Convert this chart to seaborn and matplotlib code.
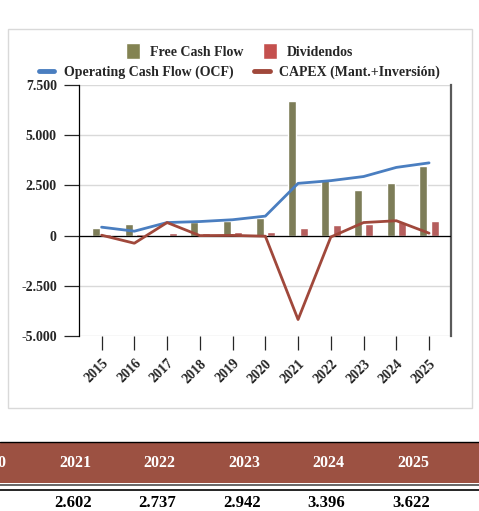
import numpy as np
import pandas as pd
import seaborn as sns
import matplotlib.pyplot as plt
from matplotlib.patches import Patch, Rectangle
from matplotlib.lines import Line2D
from matplotlib.transforms import ScaledTranslation

# Datos
years = ['2015', '2016', '2017', '2018', '2019', '2020', '2021', '2022', '2023', '2024', '2025']
fcf = [380, 570, 0, 680, 740, 900, 6700, 2800, 2250, 2610, 3480]
dividendos = [90, 80, 140, 140, 190, 200, 400, 510, 590, 660, 710]
ocf = [420, 220, 650, 700, 790, 970, 2602, 2737, 2942, 3396, 3622]
capex = [20, -380, 650, 0, 10, -30, -4180, -70, 650, 740, 120]

ytick_vals = [-5000, -2500, 0, 2500, 5000, 7500]
ytick_labels = ['-5.000', '-2.500', '0', '2.500', '5.000', '7.500']

# tabla de abajo (OCF 2020-2025)
table_years = years[5:]
table_vals = ocf[5:]

series_bar = ['Free Cash Flow', 'Dividendos']
colors = {'Free Cash Flow': '#838352', 'Dividendos': '#C4504E'}
c_ocf = '#4A7EC0'
c_capex = '#A0483B'
c_header = '#9C5142'

df = pd.DataFrame({
    'Año': years * 2,
    'Valor': fcf + dividendos,
    'Serie': [series_bar[0]] * len(years) + [series_bar[1]] * len(years),
})

sns.set_style('white')
plt.rcParams['font.family'] = ['Liberation Serif', 'DejaVu Serif']
plt.rcParams['font.weight'] = 'bold'

fig = plt.figure(figsize=(4.79, 5.11), dpi=100)
W, H = 479, 511

# marco del gráfico
fig.add_artist(Rectangle((8 / W, 1 - 408 / H), 464 / W, 379 / H, transform=fig.transFigure,
                         fill=False, ec='#D9D9D9', lw=1))

ax = fig.add_axes([79 / W, 1 - 336 / H, 372 / W, 251 / H])

sns.barplot(data=df, x='Año', y='Valor', hue='Serie', order=years, hue_order=series_bar,
            palette=colors, width=0.7, gap=0.3, legend=False, ax=ax, zorder=2)
x = np.arange(len(years))
sns.lineplot(x=x, y=ocf, color=c_ocf, lw=2.0, ax=ax, zorder=4)
sns.lineplot(x=x, y=capex, color=c_capex, lw=2.0, ax=ax, zorder=4)
ax.axhline(0, color='black', lw=0.9, zorder=3)

ax.set_xlim(-0.69, 10.67)
ax.set_ylim(-5000, 7500)
ax.set_yticks(ytick_vals)
ax.set_yticklabels(ytick_labels, fontsize=10, fontweight='bold')
ax.set_xticks(x)
ax.set_xticklabels(years, rotation=45, ha='right', va='top', rotation_mode='anchor',
                   fontsize=10, fontweight='bold')
shift = ScaledTranslation(0.035, 0, fig.dpi_scale_trans)
for lbl in ax.get_xticklabels():
    lbl.set_transform(lbl.get_transform() + shift)
ax.set_xlabel('')
ax.set_ylabel('')
ax.yaxis.grid(True, color='#D9D9D9', lw=1)
ax.set_axisbelow(True)
ax.tick_params(axis='y', direction='out', length=11, width=0.9, pad=5, left=True)
ax.tick_params(axis='x', direction='out', length=10, width=0.9, pad=5, bottom=True)
for s in ['top', 'bottom']:
    ax.spines[s].set_visible(False)
ax.spines['left'].set_color('black')
ax.spines['left'].set_linewidth(0.9)
ax.spines['right'].set_color('#5A5A5A')
ax.spines['right'].set_linewidth(1.6)

# leyendas
fig.legend(handles=[Patch(fc=colors[s]) for s in series_bar], labels=series_bar,
           loc='center', bbox_to_anchor=(0.5, 1 - 51 / H), ncol=2, frameon=False,
           fontsize=10, handlelength=1.0, handleheight=1.4, handletextpad=0.7,
           columnspacing=1.4, borderpad=0)
fig.legend(handles=[Line2D([], [], color=c_ocf, lw=3.5), Line2D([], [], color=c_capex, lw=3.5)],
           labels=['Operating Cash Flow (OCF)', 'CAPEX (Mant.+Inversión)'],
           loc='center', bbox_to_anchor=(0.5, 1 - 72 / H), ncol=2, frameon=False,
           fontsize=10, handlelength=1.1, handletextpad=0.7, columnspacing=1.5, borderpad=0)

# tabla inferior
fig.add_artist(Rectangle((0, 1 - 483 / H), 1, 41 / H, transform=fig.transFigure,
                         fc=c_header, ec='none'))
fig.add_artist(Line2D([0, 1], [1 - 442 / H] * 2, transform=fig.transFigure, color='black', lw=1))
fig.add_artist(Line2D([0, 1], [1 - 484.5 / H] * 2, transform=fig.transFigure, color='#5A5A5A', lw=1.3))
fig.add_artist(Line2D([0, 1], [1 - 489.5 / H] * 2, transform=fig.transFigure, color='black', lw=1.2))
for i, (yr, v) in enumerate(zip(table_years, table_vals)):
    cx = (75 + 84.5 * (i - 1)) / W
    fig.text(cx, 1 - 463 / H, yr, color='white', fontsize=11.5, fontweight='bold',
             ha='center', va='center')
    fig.text(cx - 2 / W, 1 - 503 / H, f'{v:,}'.replace(',', '.'), color='black', fontsize=12,
             fontweight='bold', ha='center', va='center')

fig.savefig('out.png', dpi=100)
